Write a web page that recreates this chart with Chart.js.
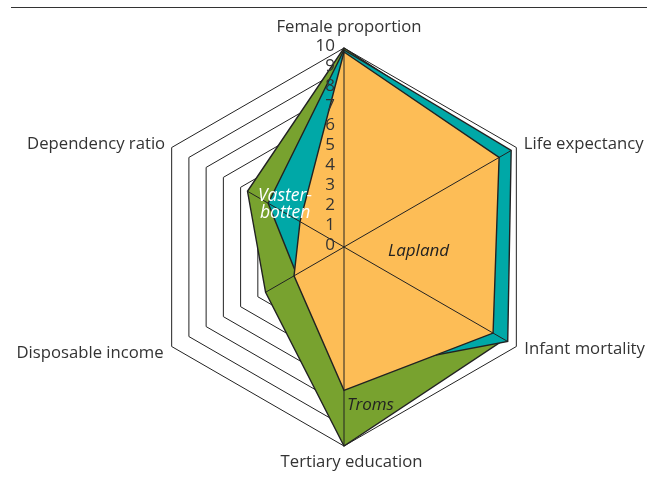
<!DOCTYPE html>
<html>
<head>
<meta charset="utf-8">
<script src="https://cdn.jsdelivr.net/npm/chart.js@4.4.1/dist/chart.umd.min.js"></script>
<style>
  html, body { margin: 0; padding: 0; background: #fff; }
  #wrap { position: relative; width: 657px; height: 477px; }
  #chart { position: absolute; left: 0; top: 0; width: 657px; height: 477px; }
  #rule { position: absolute; left: 11px; top: 7px; width: 636px; height: 0; border-top: 1.5px solid #333; z-index: 2; }
</style>
</head>
<body>
<div id="wrap">
  <div id="chart"><canvas id="radar"></canvas></div>
  <div id="rule"></div>
</div>
<script>
// axes, clockwise from the top
const axisLabels = ['Female proportion', 'Life expectancy', 'Infant mortality', 'Tertiary education', 'Disposable income', 'Dependency ratio']
const tickLabels = ['0', '1', '2', '3', '4', '5', '6', '7', '8', '9', '10']

// scores (0-10)
const lapland = [9.8, 9.0, 8.65, 7.2, 2.9, 2.55]
const vasterbotten = [9.9, 9.7, 9.5, 6.3, 2.75, 4.4]
const troms = [10, 9.4, 9.3, 10, 4.55, 5.6]

const ink = '#222222'
const textColor = '#333333'

// spokes from the centre to each vertex, drawn right after each polygon
// so the next polygon covers them
const spokes = {
    id: 'spokes',
    afterDatasetDraw(chart, args) {
        const r = chart.scales.r
        const ctx = chart.ctx
        ctx.save()
        ctx.strokeStyle = ink
        ctx.lineWidth = 1
        ctx.beginPath()
        args.meta.data.forEach(p => {
            ctx.moveTo(r.xCenter, r.yCenter)
            ctx.lineTo(p.x, p.y)
        })
        ctx.stroke()
        ctx.restore()
    }
}

// tick numbers, axis names and series names on top of the polygons
const labels = {
    id: 'labels',
    afterDatasetsDraw(chart) {
        const r = chart.scales.r
        const ctx = chart.ctx
        const cx = r.xCenter
        const cy = r.yCenter
        ctx.save()

        ctx.fillStyle = textColor
        ctx.font = '17px "Open Sans"'
        ctx.textAlign = 'right'
        ctx.textBaseline = 'middle'
        tickLabels.forEach((t, i) => {
            ctx.fillText(t, cx - 9, cy - r.getDistanceFromCenterForValue(i) - 2)
        })

        // offsets of each axis name from its outer vertex
        const place = [
            [5, -16, 'center'],
            [7.5, 1.5, 'left'],
            [8, 7.5, 'left'],
            [7.5, 21, 'center'],
            [-8, 11, 'right'],
            [-6.5, 1.5, 'right']
        ]
        ctx.font = '16.7px "Open Sans"'
        ctx.textBaseline = 'alphabetic'
        axisLabels.forEach((name, i) => {
            const p = r.getPointPositionForValue(i, 10)
            ctx.textAlign = place[i][2]
            ctx.fillText(name, p.x + place[i][0], p.y + place[i][1])
        })

        ctx.font = 'italic 17.5px "Open Sans"'
        ctx.textAlign = 'left'
        ctx.fillStyle = '#ffffff'
        ctx.fillText('Vaster-', cx - 86, cy - 46)
        ctx.fillText('botten', cx - 84, cy - 29)
        ctx.fillStyle = ink
        ctx.font = 'italic 17px "Open Sans"'
        ctx.fillText('Lapland', cx + 44, cy + 8.5)
        ctx.fillText('Troms', cx + 3, cy + 162.5)

        ctx.restore()
    }
}

const series = (label, data, color) => ({
    label: label,
    data: data,
    backgroundColor: color,
    borderColor: ink,
    borderWidth: 1.4,
    fill: true,
    pointRadius: 0,
    pointHoverRadius: 0
})

new Chart(document.getElementById('radar'), {
    type: 'radar',
    data: {
        labels: axisLabels,
        // first in the list is drawn last (on top)
        datasets: [
            series('Lapland', lapland, '#FDBD56'),
            series('Vasterbotten', vasterbotten, '#00A8A7'),
            series('Troms', troms, '#78A22F')
        ]
    },
    options: {
        responsive: true,
        maintainAspectRatio: false,
        animation: false,
        layout: {
            padding: { top: 48, bottom: 30, left: 100, right: 68 }
        },
        plugins: {
            legend: { display: false },
            tooltip: { enabled: false }
        },
        elements: {
            line: { tension: 0, borderJoinStyle: 'miter' }
        },
        scales: {
            r: {
                min: 0,
                max: 10,
                ticks: { stepSize: 1, display: false },
                grid: { circular: false, color: ink, lineWidth: 1 },
                angleLines: { display: false },
                pointLabels: { display: false }
            }
        }
    },
    plugins: [spokes, labels]
})
</script>
</body>
</html>
